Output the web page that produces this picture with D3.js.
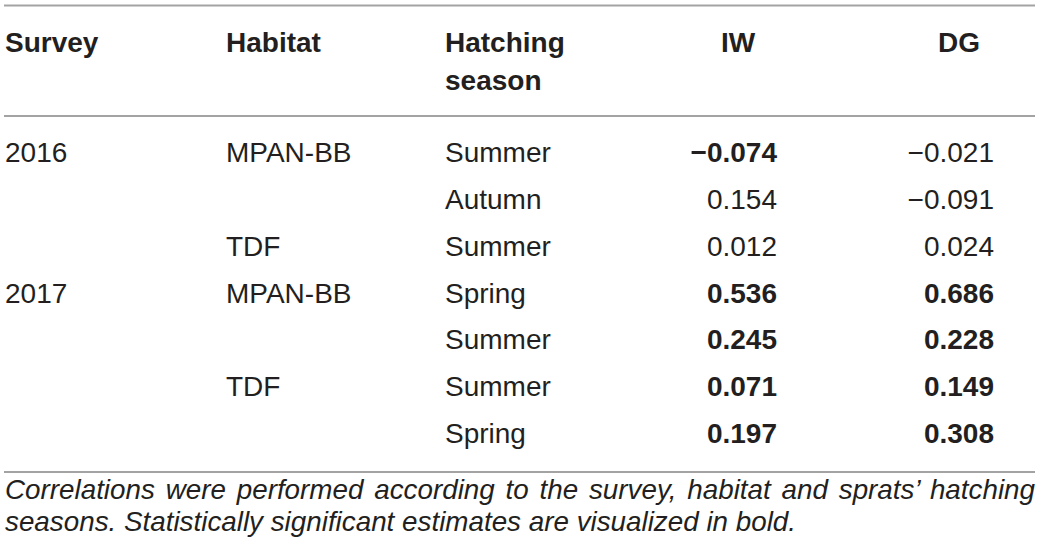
<!DOCTYPE html>
<html>
<head>
<meta charset="utf-8">
<script src="https://cdn.jsdelivr.net/npm/d3@7"></script>
<style>
  html, body { margin: 0; padding: 0; background: #fff; }
  svg { display: block; }
  text { font-family: "Liberation Sans", Arial, Helvetica, sans-serif; fill: #231f20; }
</style>
</head>
<body>
<script>
const headers = ["Survey", "Habitat", "Hatching|season", "IW", "DG"];
const surveys = ["2016", "", "", "2017", "", "", ""];
const habitats = ["MPAN-BB", "", "TDF", "MPAN-BB", "", "TDF", ""];
const seasons = ["Summer", "Autumn", "Summer", "Spring", "Summer", "Summer", "Spring"];
const iwValues = [-0.074, 0.154, 0.012, 0.536, 0.245, 0.071, 0.197];
const iwBold = [true, false, false, true, true, true, true];
const dgValues = [-0.021, -0.091, 0.024, 0.686, 0.228, 0.149, 0.308];
const dgBold = [false, false, false, true, true, true, true];
const captionLines = [
  "Correlations were performed according to the survey, habitat and sprats\u2019 hatching",
  "seasons. Statistically significant estimates are visualized in bold."
];

const W = 1039, H = 558;
const svg = d3.select("body").append("svg").attr("width", W).attr("height", H);

const fs = 28;
const rowY = d3.scaleLinear().domain([0, 6]).range([162, 443]);
const fmt = v => (v < 0 ? "\u2212" : "") + d3.format(".3f")(Math.abs(v));

// rules
const rules = [5.5, 116, 472];
svg.selectAll("line.rule").data(rules).join("line")
  .attr("class", "rule")
  .attr("x1", 4).attr("x2", 1035)
  .attr("y1", d => d).attr("y2", d => d)
  .attr("stroke", "#a3a3a3").attr("stroke-width", 2);

// headers
const headX = [5, 226, 445, 738, 959];
const headAnchor = ["start", "start", "start", "middle", "middle"];
headers.forEach((h, i) => {
  const parts = h.split("|");
  const t = svg.append("text")
    .attr("x", headX[i]).attr("y", 52)
    .attr("text-anchor", headAnchor[i])
    .attr("font-weight", "bold").attr("font-size", fs);
  parts.forEach((p, j) => {
    t.append("tspan").attr("x", headX[i]).attr("y", 52 + j * 38).text(p);
  });
});

// body columns
function col(data, x, anchor, boldArr, format) {
  svg.append("g").selectAll("text").data(data).join("text")
    .attr("x", x)
    .attr("y", (d, i) => rowY(i))
    .attr("text-anchor", anchor)
    .attr("font-size", fs)
    .attr("font-weight", (d, i) => boldArr && boldArr[i] ? "bold" : "normal")
    .text(d => format ? format(d) : d);
}
col(surveys, 5, "start");
col(habitats, 226, "start");
col(seasons, 445, "start");
col(iwValues, 777, "end", iwBold, fmt);
col(dgValues, 994, "end", dgBold, fmt);

// caption (first line justified via word spacing)
const cap = svg.append("g").selectAll("text").data(captionLines).join("text")
  .attr("x", 5)
  .attr("y", (d, i) => 499 + i * 32)
  .attr("font-size", 27.8)
  .attr("font-style", "italic")
  .text(d => d);
cap.each(function(d, i) {
  if (i !== 0) return;
  const len = this.getComputedTextLength();
  const spaces = (d.match(/ /g) || []).length;
  const ws = (1030 - len) / spaces;
  d3.select(this).attr("word-spacing", ws);
});
</script>
</body>
</html>
